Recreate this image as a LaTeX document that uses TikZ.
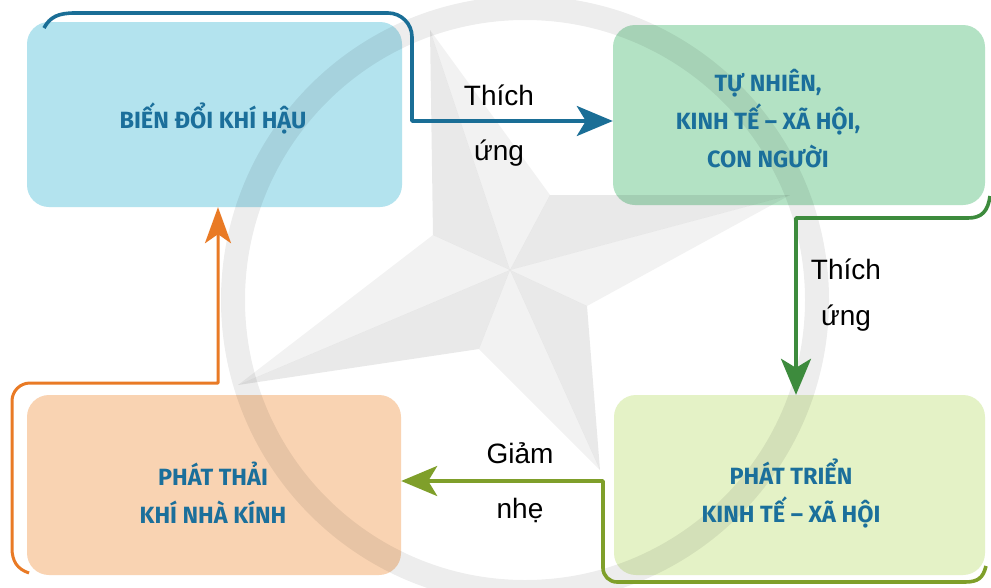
\documentclass[tikz,border=0pt]{standalone}
\usepackage{fontspec}
\setmainfont{Liberation Sans}
\newfontfamily\boxfont{Fira Sans}
\usetikzlibrary{arrows.meta}
\definecolor{fillA}{HTML}{B3E3EE}
\definecolor{fillB}{HTML}{B3E2C4}
\definecolor{fillC}{HTML}{F9D3B2}
\definecolor{fillD}{HTML}{E4F2C6}
\definecolor{txtblue}{HTML}{1B6F9B}
\definecolor{lblue}{HTML}{1A6E96}
\definecolor{lgreen}{HTML}{3D8B3D}
\definecolor{lolive}{HTML}{7F9F2A}
\definecolor{lorange}{HTML}{E97A25}
\tikzset{
  card/.style={rounded corners=22pt, minimum width=#1, minimum height=180pt, inner sep=0pt},
  cardtext/.style={text=txtblue, align=center, font=\boxfont\bfseries\fontsize{23.5}{38}\selectfont},
  lbl/.style={align=center, text=black, font=\fontsize{28}{55}\selectfont},
  conn/.style={line width=3.6pt, line join=round},
  head/.style={-{Stealth[length=36pt, width=30pt, inset=9pt]}},
  wlight/.style={fill=black, fill opacity=0.05, draw=none},
  wdark/.style={fill=black, fill opacity=0.085, draw=none},
  wring/.style={draw=black, draw opacity=0.07, line width=24pt},
}
\begin{document}
\begin{tikzpicture}[x=1pt, y=-1pt]
\useasboundingbox (0,0) rectangle (991,587);
\fill[white] (0,0) rectangle (991,587);

% cards
\node[card=375pt, minimum height=185pt, fill=fillA] (b1) at (214.5,114.5) {};
\node[card=372pt, fill=fillB] (b2) at (799,115) {};
\node[card=374pt, fill=fillC] (b3) at (214,485) {};
\node[card=371pt, fill=fillD] (b4) at (799.5,485) {};

% faint watermark (ring and four-pointed star)
\draw[wring] (525,300) circle[radius=292pt];
\coordinate (wc) at (510,270);
\fill[wlight] (wc) -- (238,385) -- (433,235) -- cycle;
\fill[wdark]  (wc) -- (433,235) -- (430,30) -- cycle;
\fill[wlight] (wc) -- (430,30) -- (550,195) -- cycle;
\fill[wdark]  (wc) -- (550,195) -- (790,195) -- cycle;
\fill[wlight] (wc) -- (790,195) -- (587,306) -- cycle;
\fill[wdark]  (wc) -- (587,306) -- (600,470) -- cycle;
\fill[wlight] (wc) -- (600,470) -- (479,349) -- cycle;
\fill[wdark]  (wc) -- (479,349) -- (238,385) -- cycle;

\node[cardtext] (t1) at (213,118) {BIẾN ĐỔI KHÍ HẬU};
\node[cardtext] (t2) at (768,119) {TỰ NHIÊN,\\KINH TẾ – XÃ HỘI,\\CON NGƯỜI};
\node[cardtext] (t3) at (213,493) {PHÁT THẢI\\KHÍ NHÀ KÍNH};
\node[cardtext] (t4) at (791,493) {PHÁT TRIỂN\\KINH TẾ – XÃ HỘI};

% connectors
\draw[conn, lblue, head] (44,28) .. controls (50,17) and (58,13) .. (75,13)
  [rounded corners=24pt] -- (412,13) [sharp corners] -- (412,121) -- ([yshift=-6pt]b2.west);
\draw[conn, lgreen, head] (990,196) .. controls (988,211) and (982,218) .. (968,218)
  -- (796,218) -- ([xshift=-3.5pt]b4.north);
\draw[conn, lolive, head] (986,566) .. controls (983,578) and (978,582) .. (965,582)
  [rounded corners=14pt] -- (603,582) [sharp corners] -- (603,481) -- ([yshift=4pt]b3.east);
\draw[conn, line width=3pt, lorange, -{Stealth[length=36pt, width=26pt, inset=9pt]}]
  (29,573) .. controls (17,569) and (12,561) .. (12,548)
  [rounded corners=18pt] -- (12,383) [sharp corners] -- (218,383) -- (b1.south -| 218,0);

% labels
\node[lbl] (l1) at (499,126) {Thích\\ứng};
\node[lbl, font=\fontsize{28}{46}\selectfont] (l2) at (846,295) {Thích\\ứng};
\node[lbl] (l3) at (520,483) {Giảm\\nhẹ};
\end{tikzpicture}
\end{document}
